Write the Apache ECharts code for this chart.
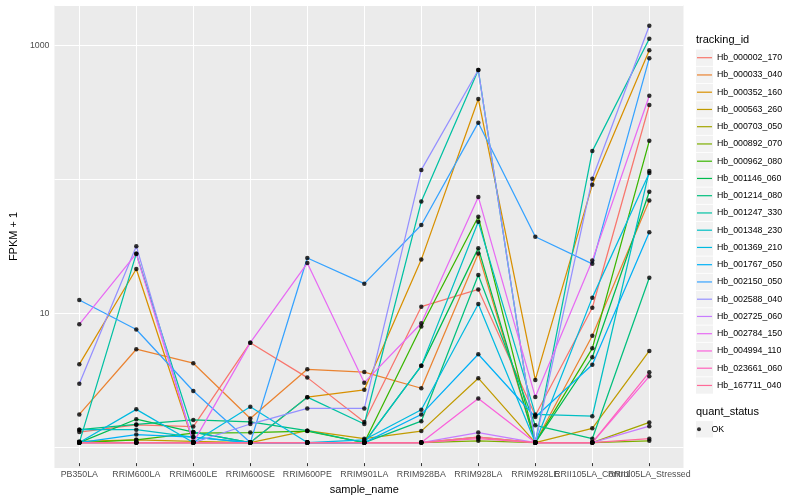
<!DOCTYPE html>
<html><head><meta charset="utf-8">
<script src="https://cdn.jsdelivr.net/npm/echarts@6/dist/echarts.min.js"></script>
<style>html,body{margin:0;padding:0;background:#fff}#c{width:800px;height:500px}</style>
</head><body><div id="c"></div>
<script>
// ---- data ----
const categories = ['PB350LA','RRIM600LA','RRIM600LE','RRIM600SE','RRIM600PE','RRIM901LA','RRIM928BA','RRIM928LA','RRIM928LE','RRII105LA_Control','RRII105LA_Stressed'];
const trackingIds = ['Hb_000002_170','Hb_000033_040','Hb_000352_160','Hb_000563_260','Hb_000703_050','Hb_000892_070','Hb_000962_080','Hb_001146_060','Hb_001214_080','Hb_001247_330','Hb_001348_230','Hb_001369_210','Hb_001767_050','Hb_002150_050','Hb_002588_040','Hb_002725_060','Hb_002784_150','Hb_004994_110','Hb_023661_060','Hb_167711_040'];
const yTickLabels = [10, 1000];
const quantStatus = ['OK'];

const hb_000002_170 = [1.2, 1.36, 1.32, 5.67, 3.09, 1.43, 10.6, 14.3, 1.6, 10.4, 352];
const hb_000033_040 = [1.63, 5.06, 3.97, 1.52, 3.57, 3.4, 2.57, 26.7, 1, 6.4, 67];
const hb_000352_160 = [3.89, 20.4, 1, 1, 2.2, 2.5, 24, 391, 2.97, 88, 911];
const hb_000563_260 = [1.02, 1.05, 1.02, 1, 1.23, 1.07, 1.22, 3.06, 1, 1.28, 4.91];
const hb_000703_050 = [1, 1, 1, 1, 1, 1, 1, 1.1, 1, 1, 1.42];
const hb_000892_070 = [1, 1, 1, 1, 1, 1, 1, 1.03, 1, 1, 1.03];
const hb_000962_080 = [1, 1.05, 1.18, 1.19, 1.22, 1, 7.5, 50.6, 1, 5.14, 189];
const hb_001146_060 = [1, 1.5, 1.2, 1, 1, 1, 3.79, 29.3, 1, 4.4, 78];
const hb_001214_080 = [1.25, 1.37, 1.48, 1.43, 1.23, 1, 1.45, 18.4, 1.35, 1.07, 17.5];
const hb_001247_330 = [1, 26.6, 1.2, 1, 2.2, 1.38, 65.8, 646, 1, 158, 1114];
const hb_001348_230 = [1.25, 1.25, 1.1, 1, 1, 1, 3.79, 46.4, 1.63, 1.58, 112];
const hb_001369_210 = [1, 1.78, 1, 1.86, 1, 1.05, 1.77, 11.1, 1, 12.4, 108];
const hb_001767_050 = [1, 1.15, 1.1, 1, 1, 1, 1.63, 4.64, 1.56, 3.86, 38.6];
const hb_002150_050 = [11.9, 7.13, 2.45, 1, 24.7, 15.8, 43.8, 259, 35.7, 22.3, 794];
const hb_002588_040 = [2.78, 30.3, 1, 1.38, 1.81, 1.81, 114, 646, 1, 97.7, 1393];
const hb_002725_060 = [1, 1, 1, 1, 1, 1, 1, 1.19, 1, 1, 1.33];
const hb_002784_150 = [7.8, 26.6, 1, 5.67, 22.6, 2.83, 7.94, 71.3, 2.21, 23.6, 413];
const hb_004994_110 = [1, 1, 1, 1, 1, 1, 1, 2.15, 1, 1, 3.16];
const hb_023661_060 = [1, 1, 1, 1, 1, 1, 1, 1.07, 1, 1, 3.39];
const hb_167711_040 = [1, 1, 1, 1, 1, 1, 1, 1.1, 1, 1, 1.07];

const seriesValues = [hb_000002_170, hb_000033_040, hb_000352_160, hb_000563_260, hb_000703_050, hb_000892_070, hb_000962_080, hb_001146_060, hb_001214_080, hb_001247_330, hb_001348_230, hb_001369_210, hb_001767_050, hb_002150_050, hb_002588_040, hb_002725_060, hb_002784_150, hb_004994_110, hb_023661_060, hb_167711_040];

// ---- style ----
const palette = ['#F8766D','#EA8331','#D89000','#C09B00','#A3A500','#7CAE00','#39B600','#00BB4E','#00BF7D','#00C1A3','#00BFC4','#00BAE0','#00B0F6','#35A2FF','#9590FF','#C77CFF','#E76BF3','#FA62DB','#FF62BC','#FF6A98'];
const FONT = "'Liberation Sans', Arial, Helvetica, sans-serif";
const yMin = 0.7, yMax = 2000;
const legendTop = 50.7, legendStep = 17.25;

const chart = echarts.init(document.getElementById('c'), null, {renderer: 'canvas'});

const lineSeries = trackingIds.map((id, i) => ({
  type: 'line', name: id, xAxisIndex: 1, yAxisIndex: 1,
  data: seriesValues[i], showSymbol: false, symbol: 'none',
  lineStyle: {width: 1.25, color: palette[i]}, itemStyle: {color: palette[i]},
  emphasis: {disabled: true}, z: 2, silent: true
}));
const points = [];
seriesValues.forEach(arr => arr.forEach((v, j) => points.push([j, v])));

const keyRects = trackingIds.map((id, i) => ({
  type: 'rect', z: 0,
  shape: {x: 696, y: legendTop + 7 + i * legendStep - 8.2, width: 17, height: 16.4},
  style: {fill: '#F2F2F2'}
}));
keyRects.push({type: 'rect', z: 0, shape: {x: 696, y: 429.3 - 8.2, width: 17, height: 16.4}, style: {fill: '#F2F2F2'}});

const option = {
  animation: false,
  textStyle: {fontFamily: FONT},
  title: [
    {text: 'tracking_id', left: 696, top: 34.5, padding: 0, textStyle: {fontSize: 11, fontWeight: 'normal', color: '#000', fontFamily: FONT}},
    {text: 'quant_status', left: 696, top: 406.5, padding: 0, textStyle: {fontSize: 11, fontWeight: 'normal', color: '#000', fontFamily: FONT}}
  ],
  graphic: keyRects,
  grid: [
    {left: 45, right: 116.5, top: 5, bottom: 32, show: true, backgroundColor: '#EBEBEB', borderWidth: 0},
    {left: 79.3, right: 150.7, top: 5, bottom: 32}
  ],
  xAxis: [
    {gridIndex: 0, type: 'category', data: categories, show: false},
    {gridIndex: 1, type: 'category', data: categories, boundaryGap: false,
     axisLine: {show: false},
     axisTick: {show: true, length: 3, lineStyle: {color: '#333', width: 1}},
     axisLabel: {interval: 0, margin: 7, fontSize: 8.8, color: '#4D4D4D', fontFamily: FONT, hideOverlap: false},
     splitLine: {show: true, lineStyle: {color: '#fff', width: 1}},
     name: 'sample_name', nameLocation: 'middle', nameGap: 14,
     nameTextStyle: {fontSize: 11, color: '#000', fontFamily: FONT}}
  ],
  yAxis: [
    {gridIndex: 0, type: 'log', logBase: 10, min: yMin, max: yMax,
     axisLine: {show: false}, axisTick: {show: false},
     axisLabel: {fontSize: 8.8, color: '#4D4D4D', margin: 5, fontFamily: FONT,
       formatter: v => { for (const t of yTickLabels) { if (Math.abs(v - t) < 1e-6 * t) return String(t); } return ''; }},
     splitLine: {show: true, lineStyle: {color: '#fff', width: 1}},
     name: 'FPKM + 1', nameLocation: 'middle', nameGap: 27, nameRotate: 90,
     nameTextStyle: {fontSize: 11, color: '#000', fontFamily: FONT}},
    {gridIndex: 1, type: 'log', logBase: 10, min: yMin, max: yMax, show: false}
  ],
  legend: [
    {data: trackingIds, left: 697, top: legendTop, orient: 'vertical', itemWidth: 15, itemHeight: 1.2,
     itemGap: legendStep - 14, icon: 'rect', padding: 0, selectedMode: false, z: 5,
     textStyle: {fontSize: 8.8, color: '#000', lineHeight: 14, fontFamily: FONT}},
    {data: quantStatus, left: 697, top: 422.3, orient: 'vertical', itemWidth: 15, itemHeight: 4,
     icon: 'circle', padding: 0, selectedMode: false, z: 5,
     textStyle: {fontSize: 8.8, color: '#000', lineHeight: 14, fontFamily: FONT}}
  ],
  series: lineSeries.concat([{
    type: 'scatter', name: quantStatus[0], xAxisIndex: 1, yAxisIndex: 1, data: points,
    symbol: 'circle', symbolSize: 4.5, itemStyle: {color: '#000'}, z: 3, silent: true
  }])
};
chart.setOption(option);
</script></body></html>
